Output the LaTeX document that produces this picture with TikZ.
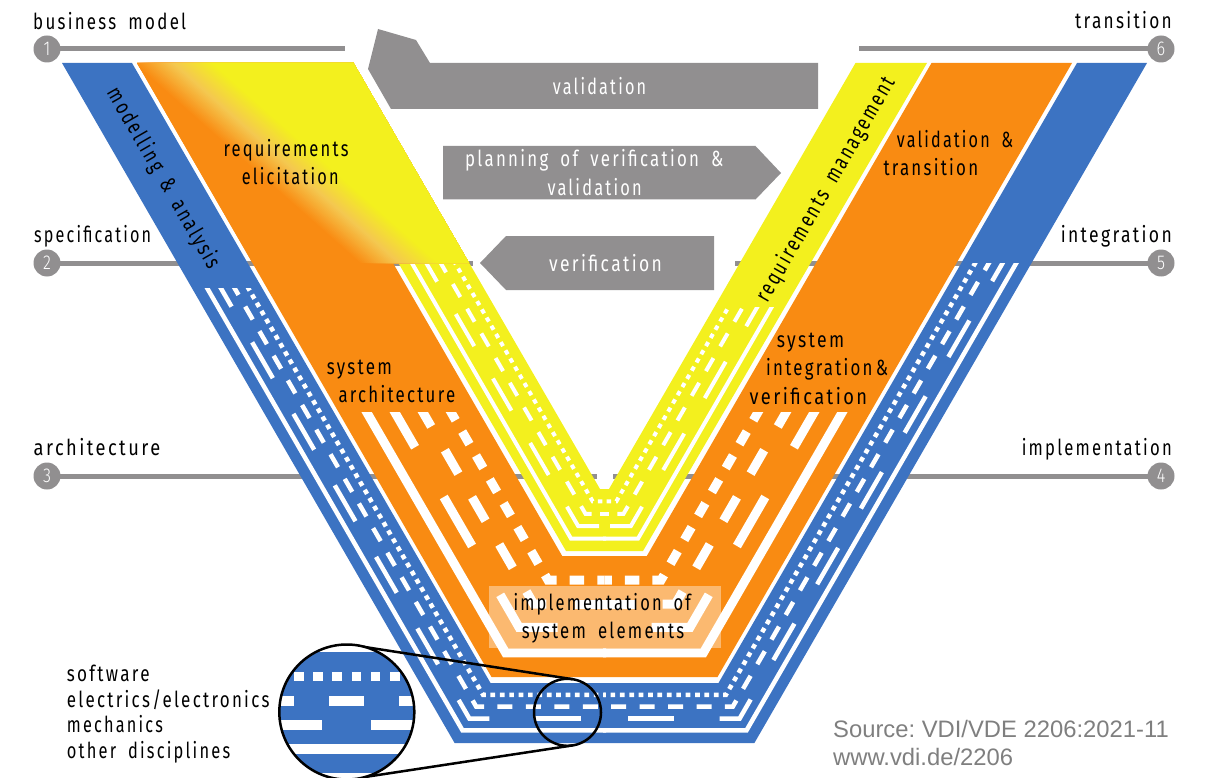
\documentclass[tikz,border=0pt]{standalone}
\usepackage{fontspec}
\usepackage{graphicx}
\setmainfont{Liberation Sans}
\newfontfamily\vf[FakeStretch=0.82,LetterSpace=11,WordSpace=1.8]{Fira Sans}
\newfontfamily\vd[FakeStretch=0.82]{Fira Sans Light}
\newcommand\tw[2]{\resizebox{#1pt}{\height}{#2}}
\definecolor{blueV}{HTML}{3C73C2}
\definecolor{orV}{HTML}{F98B12}
\definecolor{yeV}{HTML}{F3F01E}
\definecolor{midc}{HTML}{F4C850}
\definecolor{greyV}{HTML}{918F90}
\definecolor{srcV}{HTML}{7F7F7F}
\newcommand\Vl[4]{\draw[#1] ({604.5-#4},#3) -- ({#2+(#3-63)*0.57735},#3) -- ({#2+87*0.57735},150);}
\newcommand\Vleg[3]{\draw[#1] ({#2+(#3-63)*0.57735},#3) -- ({#2+87*0.57735},150);}
\newcommand\halfV[6]{%
 % blue band
 \begin{scope}
  \clip (0,#1) rectangle (606,800);
  \begin{scope}[bl]
   \Vl{dash pattern=on 4.7 off 4.69,dash phase=2.35}{118.3}{694.9}{-1}
   \Vl{dash pattern=on 15 off 13.43,dash phase=21.7}{104.6}{706.7}{0}
   \Vl{dash pattern=on 46 off 2000}{90.9}{718.6}{23.5}
   \Vl{dash pattern=#4}{90.9}{718.6}{115.2}
   \Vl{}{77.2}{730.4}{-2}
  \end{scope}
 \end{scope}
 % yellow band
 \begin{scope}
  \clip (0,#2) rectangle (606,800);
  \begin{scope}[yl]
   \Vl{dash pattern=on 4.6 off 4.85,dash phase=7.35}{339.6}{501.4}{0}
   \Vl{dash pattern=on 5.5 off 2000}{325.2}{513.8}{-1}
   \Vl{dash pattern=on 15 off 13.5}{325.2}{513.8}{12.8}
   \Vl{dash pattern=on 43.3 off 2000}{310.8}{526.2}{5.5}
   \Vleg{dash pattern=#6}{310.8}{#5}
   \Vl{}{296.4}{538.6}{-2}
  \end{scope}
 \end{scope}
 % orange band
 \begin{scope}
  \clip (0,#3) rectangle (606,800);
  \begin{scope}[ol]
   \Vl{dash pattern=on 14.5 off 13.1,dash phase=7.25}{249.4}{580.2}{0}
   \Vl{dash pattern=on 32 off 2000}{221.3}{604}{-2}
   \Vl{dash pattern=on 27 off 27.4}{221.3}{604}{58.2}
   \Vl{dash pattern=on 76 off 2000}{193.2}{627.3}{47}
   \Vleg{dash pattern=on 56.6 off 57.4}{193.2}{546}
   \Vl{}{165.1}{652.8}{-2}
  \end{scope}
 \end{scope}}
\tikzset{
 bl/.style={every path/.append style={white,line width=4.5pt,line cap=butt}},
 yl/.style={every path/.append style={white,line width=4pt,line cap=butt}},
 ol/.style={every path/.append style={white,line width=9pt,line cap=butt}},
 hline/.style={greyV,line width=5pt},
 numc/.style={circle,fill=greyV,text=white,minimum size=27pt,inner sep=0pt,font=\vd\fontsize{20}{20}\selectfont},
 lbl/.style={inner sep=0pt,text=black,yshift=-0.6pt,font=\vf\fontsize{22}{22}\selectfont},
 wlbl/.style={lbl,text=white},
 arrowV/.style={fill=greyV},
 src/.style={inner sep=0pt,anchor=base west,text=srcV,font=\frenchspacing\fontsize{23.8}{23.8}\selectfont},
 magline/.style={black,line width=2.5pt},
}
\begin{document}
\begin{tikzpicture}[x=1pt,y=-1pt]
\useasboundingbox (0,0) rectangle (1223,778);
% numbered nodes and horizontal lines
\coordinate (e1) at (345,49);
\coordinate (e6) at (859,49);
\coordinate (e2) at (473,263);
\coordinate (e5) at (735,263);
\coordinate (e3) at (597,476);
\coordinate (e4) at (612.5,476);
\coordinate (c1) at (47,49);
\coordinate (c2) at (47,263);
\coordinate (c3) at (47,476);
\coordinate (c4) at (1161,476);
\coordinate (c5) at (1161,263);
\coordinate (c6) at (1161,49);
\draw[hline] (c1) -- (e1);
\draw[hline] (c2) -- (e2);
\draw[hline] (c3) -- (e3);
\draw[hline] (c4) -- (e4);
\draw[hline] (c5) -- (e5);
\draw[hline] (c6) -- (e6);
% V bands
\fill[blueV] (62,63) -- (454.6,743) -- (754.4,743) -- (1147,63) -- (1077,63) -- (718.5,683) -- (490.5,683) -- (132,63) -- cycle;
\fill[orV] (137,63) -- (491.5,677) -- (717.5,677) -- (1072,63) -- (931.5,63) -- (646.8,556) -- (562.2,556) -- (277.5,63) -- cycle;
\fill[yeV] (282,63) -- (566,551) -- (643,551) -- (927,63) -- (855.5,63) -- (609,489) -- (600,489) -- (353.5,63) -- cycle;
% discipline lines
\halfV{288}{263}{412.5}{on 41.4 off 41.2}{475}{on 37 off 37.4}
\begin{scope}[shift={(1209,0)},xscale=-1]
\halfV{263}{307}{412.5}{on 42 off 45.5}{470}{on 42 off 41}
\end{scope}
% gradient head of the left leg
\begin{scope}
 \clip (137,63) -- (353.5,63) -- (469,263) -- (252.5,263) -- cycle;
 \fill[orV] (100,50) rectangle (500,270);
 \foreach \i in {0,...,40}{
  \pgfmathsetmacro\tv{-26+52*\i/40}
  \pgfmathsetmacro\bx{172+\tv*0.662}
  \pgfmathsetmacro\by{63-\tv*0.748}
  \ifnum\i<21
   \pgfmathsetmacro\pc{\i*5}
   \colorlet{gc}{midc!\pc!orV}
  \else
   \pgfmathsetmacro\pc{(\i-20)*5}
   \colorlet{gc}{yeV!\pc!midc}
  \fi
  \fill[gc] ({\bx-600*0.748},{\by-600*0.662}) -- ({\bx+600*0.748},{\by+600*0.662}) -- ({\bx+600*0.748+500*0.662},{\by+600*0.662-500*0.748}) -- ({\bx-600*0.748+500*0.662},{\by-600*0.662-500*0.748}) -- cycle;
 }
\end{scope}
% grey arrows
\fill[arrowV] (378,29) -- (416,40) -- (430,63) -- (818,63) -- (818,109) -- (391,109) -- (368,69) -- cycle;
\fill[arrowV] (443,146) -- (755.5,146) -- (781,173) -- (755.5,199.5) -- (443,199.5) -- cycle;
\fill[arrowV] (506,236) -- (714,236) -- (714,290) -- (506,290) -- (480,263) -- cycle;
% light box
\node[fill=white,fill opacity=0.4,inner sep=0pt,anchor=north west,minimum width=232.4pt,minimum height=62pt] (box) at (488.3,585.3) {};
% circles
\node[numc] (n1) at (c1) {1};
\node[numc] (n2) at (c2) {2};
\node[numc] (n3) at (c3) {3};
\node[numc] (n4) at (c4) {4};
\node[numc] (n5) at (c5) {5};
\node[numc] (n6) at (c6) {6};
% stage labels
\node[lbl,anchor=base west] (t1) at (33,29.3) {\tw{153}{business model}};
\node[lbl,anchor=base west] (t2) at (34,241.7) {\tw{117}{specification}};
\node[lbl,anchor=base west] (t3) at (33.5,455) {\tw{126.5}{architecture}};
\node[lbl,anchor=base east] (t4) at (1172,455) {\tw{150}{implementation}};
\node[lbl,anchor=base east] (t5) at (1172,241.7) {\tw{111}{integration}};
\node[lbl,anchor=base east] (t6) at (1172,28.3) {\tw{96.7}{transition}};
% band labels
\node[lbl,rotate=-60] (m1) at (163,178) {\tw{205}{modelling \& analysis}};
\node[lbl,anchor=base west] (r1) at (223.3,155.8) {\tw{125}{requirements}};
\node[lbl,anchor=base west] (r2) at (241.7,184) {\tw{96.7}{elicitation}};
\node[lbl,anchor=base west] (s1) at (326.7,374) {\tw{65}{system}};
\node[lbl,anchor=base west] (s2) at (338.3,401.7) {\tw{116.7}{architecture}};
\node[lbl,rotate=60] (m2) at (826,189) {\tw{256}{requirements management}};
\node[lbl,anchor=base west] (v1) at (896.7,146.7) {\tw{116.3}{validation \&}};
\node[lbl,anchor=base west] (v2) at (883.3,175) {\tw{94.7}{transition}};
\node[lbl,anchor=base west] (i1) at (776.7,346.7) {\tw{67.3}{system}};
\node[lbl,anchor=base west] (i2) at (766,375) {\tw{122}{integration\,\&}};
\node[lbl,anchor=base west] (i3) at (749.3,404) {\tw{117.7}{verification}};
\node[lbl,anchor=base west] (b1) at (513.3,610) {\tw{177.4}{implementation of}};
\node[lbl,anchor=base west] (b2) at (521.7,638.3) {\tw{162.3}{system elements}};
% arrow labels
\node[wlbl,anchor=base west] (a1) at (552.7,94) {\tw{93.3}{validation}};
\node[wlbl,anchor=base west] (a2) at (465,166) {\tw{258.3}{planning of verification \&}};
\node[wlbl,anchor=base west] (a3) at (547.3,194.7) {\tw{94.3}{validation}};
\node[wlbl,anchor=base west] (a4) at (549,270.5) {\tw{112.7}{verification}};
% legend
\node[lbl,anchor=base west] (l1) at (66.7,680.7) {\tw{82.7}{software}};
\node[lbl,anchor=base west] (l2) at (66.7,706.7) {\tw{202.7}{electrics/electronics}};
\node[lbl,anchor=base west] (l3) at (66.7,732.3) {\tw{96}{mechanics}};
\node[lbl,anchor=base west] (l4) at (66.7,758.3) {\tw{163.3}{other disciplines}};
% source
\node[src] (src1) at (833,737) {Source: VDI/VDE 2206:2021-11};
\node[src] (src2) at (833,765) {www.vdi.de/2206};
% magnifier
\draw[magline] (357,645.8) -- (572.6,679.2);
\draw[magline] (357,778.2) -- (572.6,745.4);
\draw[magline] (567.5,712.3) circle (33.5);
\begin{scope}
 \clip (346.8,712) circle (67.5);
 \fill[white] (270,640) rectangle (420,780);
 \fill[blueV] (270,651.7) rectangle (420,773.3);
 \foreach \dx in {294.3,313.3,332.3,351.5,370.7,390}{
  \fill[white] (\dx,671.7) rectangle ++(9.7,9.5);
 }
 \fill[white] (270,696) rectangle (294,705.7);
 \fill[white] (329,696) rectangle (364.3,705.7);
 \fill[white] (399,696) rectangle (420,705.7);
 \fill[white] (270,720) rectangle (322.3,729.7);
 \fill[white] (371,720) rectangle (420,729.7);
 \fill[white] (270,744) rectangle (420,754);
\end{scope}
\draw[magline] (346.8,712) circle (67.5);
\end{tikzpicture}
\end{document}
